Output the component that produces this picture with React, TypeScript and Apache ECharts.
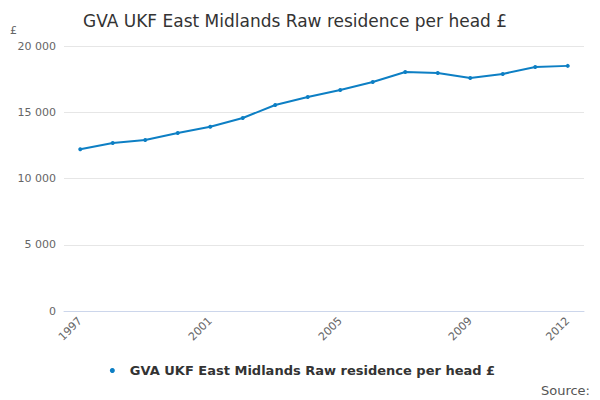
import React, { useEffect, useRef } from "react";
import * as echarts from "echarts";

const years = ["1997","1998","1999","2000","2001","2002","2003","2004","2005","2006","2007","2008","2009","2010","2011","2012"];
const values = [12200,12680,12900,13430,13900,14570,15550,16150,16680,17280,18040,17960,17580,17890,18420,18500];
const shownLabels = ["1997","2001","2005","2009","2012"];
const seriesName = "GVA UKF East Midlands Raw residence per head £";

export default function App() {
  const ref = useRef<HTMLDivElement>(null);
  useEffect(() => {
    const chart = echarts.init(ref.current!, null, { renderer: "svg" });
    chart.setOption({
      animation: false,
      textStyle: { fontFamily: "DejaVu Sans" },
      title: { text: "GVA UKF East Midlands Raw residence per head £", left: 78, top: 7, textStyle: { fontSize: 17, fontWeight: "normal", color: "#333" } },
      graphic: [
        { type: "text", left: 10, top: 25, style: { text: "£", fontSize: 11, fill: "#666", fontFamily: "DejaVu Sans" } },
        { type: "text", right: 10, bottom: 3, style: { text: "Source:", fontSize: 13, fill: "#555", fontFamily: "DejaVu Sans" } },
      ],
      legend: { bottom: 18, left: "center", itemWidth: 20, itemHeight: 8, textStyle: { fontSize: 13, fontWeight: "bold", color: "#333" }, data: [{ name: seriesName, icon: "path://M0,4L8,4M4,4A2,2 0 1 1 4,4.01M8,4L16,4" }] },
      grid: { left: 64, right: 16, top: 46, bottom: 89 },
      xAxis: {
        type: "category", data: years, boundaryGap: true,
        axisLine: { lineStyle: { color: "#ccd6eb" } },
        axisTick: { interval: 0, alignWithLabel: true, lineStyle: { color: "#ccd6eb" } },
        axisLabel: { interval: (i: number, v: string) => shownLabels.includes(v), rotate: 45, color: "#666", fontSize: 11 },
      },
      yAxis: {
        type: "value", min: 0, max: 20000, interval: 5000,
        axisLabel: { color: "#666", fontSize: 11, formatter: (v: number) => v >= 1000 ? `${Math.floor(v/1000)} ${String(v%1000).padStart(3,"0")}` : String(v) },
        splitLine: { lineStyle: { color: "#e6e6e6" } },
      },
      series: [{
        name: seriesName, type: "line", data: values,
        symbol: "circle", symbolSize: 4,
        itemStyle: { color: "#0d7fc4" }, lineStyle: { width: 2, color: "#0d7fc4" },
      }],
    });
    return () => chart.dispose();
  }, []);
  return <div ref={ref} style={{ position: "absolute", left: 0, top: 0, width: 600, height: 400 }} />;
}
